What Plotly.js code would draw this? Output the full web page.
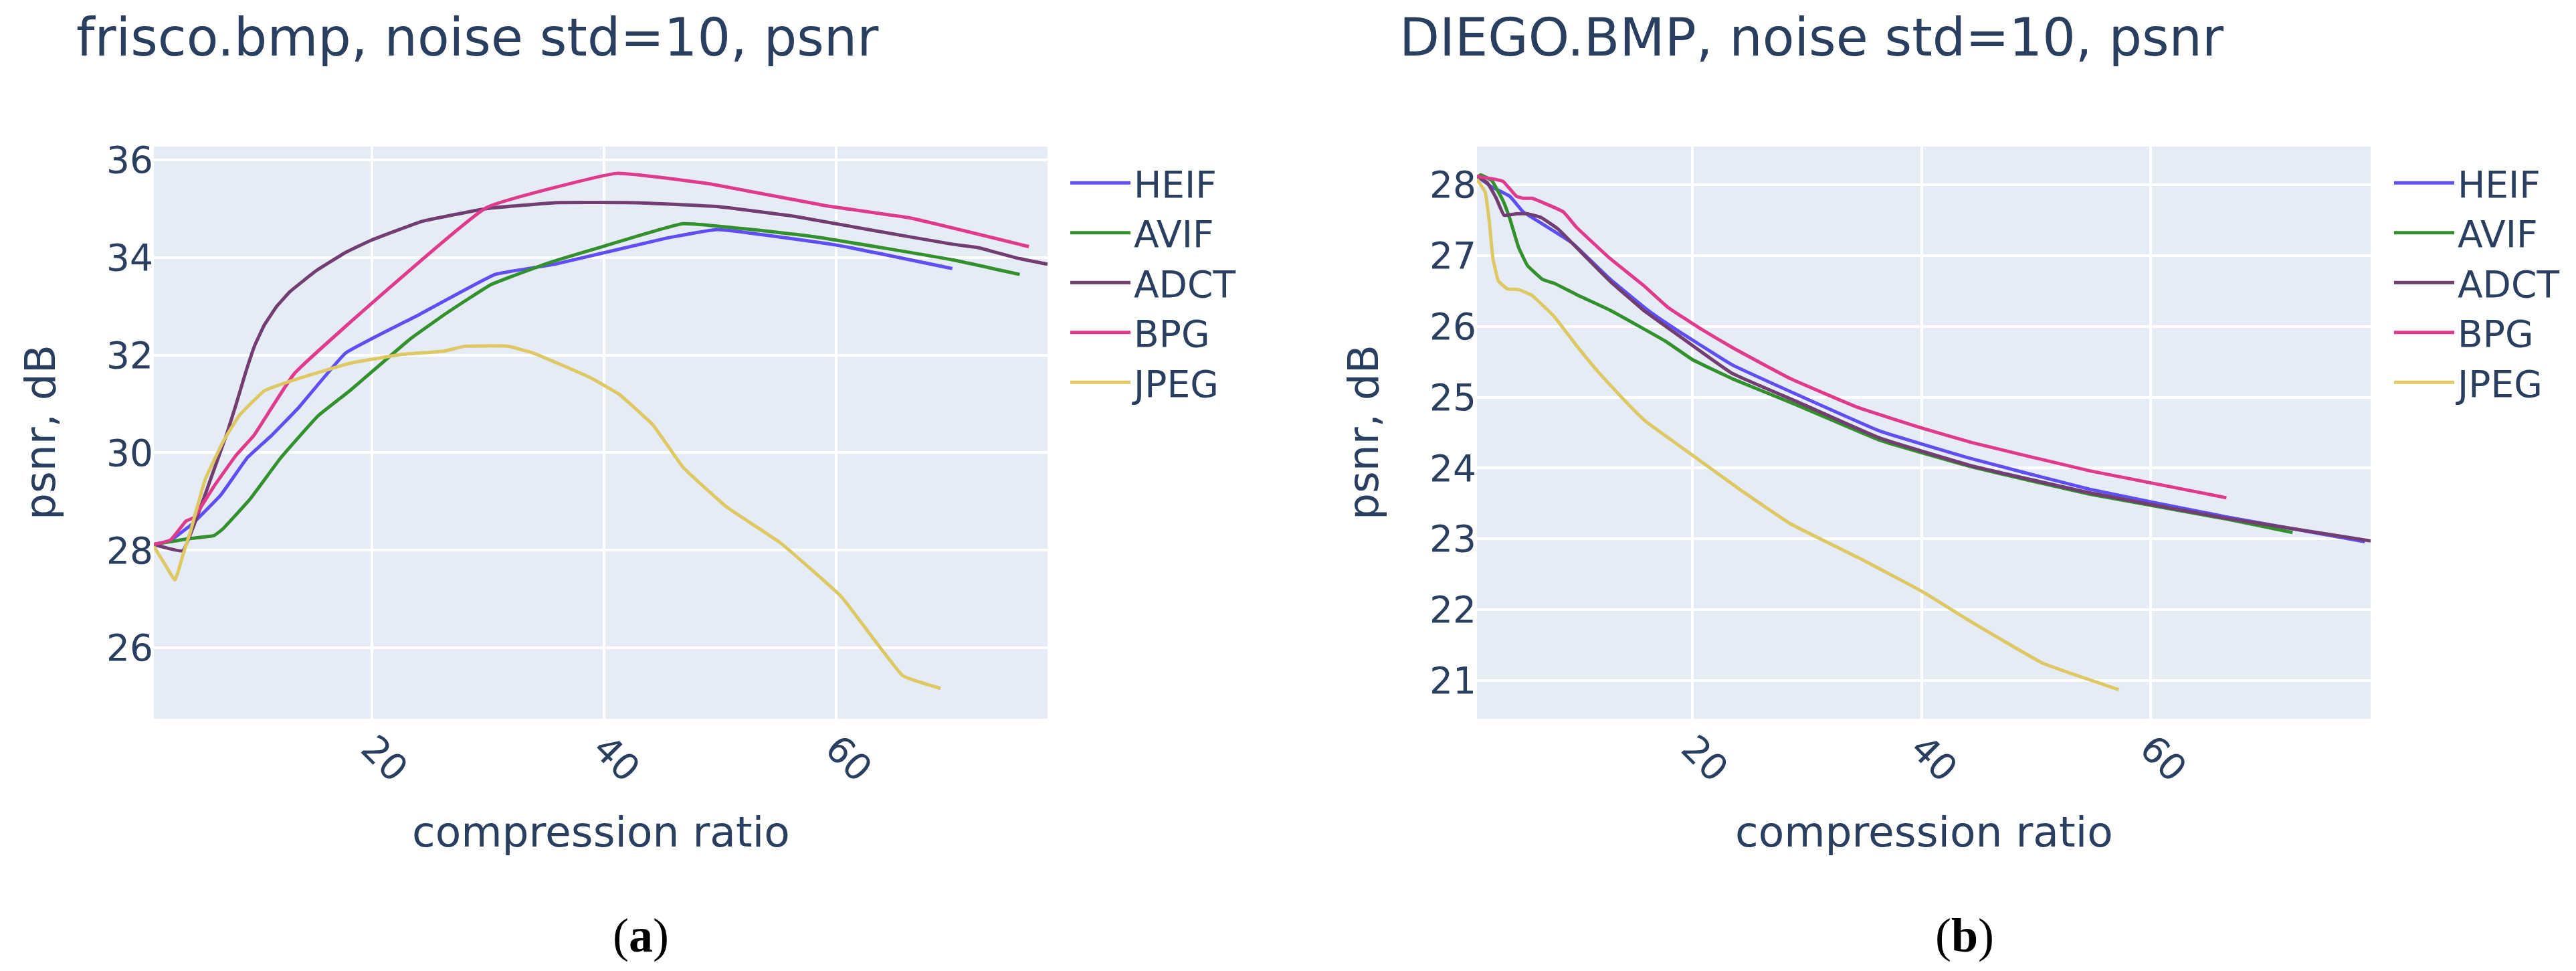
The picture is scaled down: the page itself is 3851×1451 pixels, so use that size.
<!DOCTYPE html>
<html>
<head>
<meta charset="utf-8">
<script src="https://cdn.plot.ly/plotly-3.0.1.min.js"></script>
<style>
html, body { margin: 0; padding: 0; background: #ffffff; }
#chart { width: 3851px; height: 1451px; }
</style>
</head>
<body>
<div id="chart"></div>
<script>
// ---------- data: (a) frisco.bmp ----------
const seriesNames = ['HEIF', 'AVIF', 'ADCT', 'BPG', 'JPEG'];
const seriesColors = ['#5E4FF5', '#33912D', '#723D70', '#E03A8C', '#DEC864'];

const heifA_x = [1.2, 2.6, 4.46, 6.96, 9.27, 11.38, 13.67, 17.72, 24.0, 30.6, 35.74, 45.3, 49.76, 60.06, 70.0];
const heifA_y = [28.12, 28.2, 28.53, 29.13, 29.9, 30.36, 30.92, 32.04, 32.82, 33.65, 33.86, 34.39, 34.57, 34.25, 33.77];

const avifA_x = [1.2, 4.27, 6.38, 7.15, 9.46, 12.15, 15.33, 18.09, 23.24, 26.37, 30.23, 35.38, 40.0, 46.8, 58.2, 70.0, 75.8];
const avifA_y = [28.12, 28.24, 28.3, 28.44, 29.04, 29.9, 30.75, 31.27, 32.32, 32.85, 33.44, 33.9, 34.23, 34.69, 34.42, 33.95, 33.65];

const adctA_x = [1.2, 3.69, 5.04, 6.2, 7.45, 8.3, 9.08, 9.9, 10.73, 11.8, 12.94, 15.15, 17.72, 19.93, 24.34, 29.86, 35.74, 42.8, 49.8, 56.4, 63.0, 70.0, 72.2, 75.5, 78.2];
const adctA_y = [28.12, 27.99, 28.76, 29.53, 30.36, 31.0, 31.62, 32.2, 32.62, 33.0, 33.3, 33.72, 34.1, 34.35, 34.74, 35.0, 35.12, 35.12, 35.04, 34.84, 34.56, 34.27, 34.2, 33.99, 33.86];

const bpgA_x = [1.2, 2.64, 3.98, 4.65, 6.38, 8.3, 9.84, 13.31, 29.86, 41.08, 49.0, 59.3, 66.3, 76.6];
const bpgA_y = [28.12, 28.21, 28.6, 28.67, 29.31, 29.95, 30.36, 31.62, 35.02, 35.72, 35.51, 35.05, 34.81, 34.22];

const jpegA_x = [1.2, 2.16, 3.02, 3.69, 4.37, 5.62, 7.16, 8.52, 10.73, 13.67, 18.09, 22.5, 26.18, 28.02, 31.7, 33.9, 38.68, 41.26, 44.2, 46.8, 50.6, 55.2, 60.47, 65.74, 68.98];
const jpegA_y = [28.08, 27.71, 27.39, 27.89, 28.4, 29.45, 30.22, 30.75, 31.27, 31.52, 31.83, 32.01, 32.08, 32.18, 32.18, 32.04, 31.55, 31.2, 30.57, 29.7, 28.88, 28.15, 27.04, 25.43, 25.17];

// ---------- data: (b) DIEGO.BMP ----------
const heifB_x = [1.22, 2.51, 4.07, 5.23, 6.01, 9.51, 12.82, 16.12, 18.65, 23.45, 28.96, 36.4, 44.4, 54.68, 66.59, 78.68];
const heifB_y = [28.12, 27.97, 27.84, 27.62, 27.54, 27.18, 26.67, 26.23, 25.95, 25.46, 25.05, 24.52, 24.13, 23.7, 23.31, 22.96];

const avifB_x = [1.22, 1.53, 2.51, 3.48, 4.07, 4.84, 5.62, 6.98, 7.95, 9.9, 12.82, 17.68, 20.03, 23.51, 28.96, 36.4, 44.52, 54.68, 66.59, 72.36];
const avifB_y = [28.1, 28.14, 28.06, 27.78, 27.53, 27.12, 26.86, 26.66, 26.61, 26.45, 26.23, 25.79, 25.53, 25.26, 24.9, 24.39, 24.01, 23.63, 23.28, 23.09];

const adctB_x = [1.22, 2.12, 2.9, 3.58, 4.65, 5.62, 6.79, 8.34, 10.29, 12.82, 15.74, 18.65, 23.45, 28.96, 36.4, 44.4, 54.68, 66.59, 79.17];
const adctB_y = [28.12, 28.03, 27.81, 27.57, 27.59, 27.59, 27.54, 27.37, 27.05, 26.64, 26.23, 25.89, 25.34, 24.95, 24.42, 24.03, 23.65, 23.29, 22.97];

const bpgB_x = [1.22, 3.48, 4.65, 5.23, 6.01, 8.73, 9.9, 12.82, 15.74, 17.87, 20.6, 23.51, 28.59, 34.54, 40.12, 44.4, 54.68, 66.59];
const bpgB_y = [28.12, 28.05, 27.84, 27.81, 27.81, 27.62, 27.4, 26.96, 26.58, 26.27, 25.98, 25.7, 25.26, 24.85, 24.56, 24.36, 23.96, 23.58];

const jpegB_x = [1.22, 1.93, 2.31, 2.61, 3.09, 3.87, 4.84, 6.01, 7.95, 9.9, 11.84, 14.18, 15.94, 20.03, 24.12, 28.59, 34.54, 40.12, 44.52, 50.5, 57.2];
const jpegB_y = [28.08, 27.9, 27.46, 26.96, 26.64, 26.53, 26.52, 26.44, 26.14, 25.73, 25.35, 24.94, 24.66, 24.18, 23.7, 23.21, 22.73, 22.25, 21.81, 21.25, 20.87];

const titleA = 'frisco.bmp, noise std=10, psnr';
const titleB = 'DIEGO.BMP, noise std=10, psnr';
const xTitle = 'compression ratio';
const yTitle = 'psnr, dB';
const panelA = '(<b>a</b>)';
const panelB = '(<b>b</b>)';

// ---------- build ----------
const W = 3851, H = 1451;
const FONT = 'DejaVu Sans, Verdana, sans-serif';
const TXT = '#2a3f5f';
const px = v => v / W;
const py = v => 1 - v / H;

const setA = [[heifA_x, heifA_y], [avifA_x, avifA_y], [adctA_x, adctA_y], [bpgA_x, bpgA_y], [jpegA_x, jpegA_y]];
const setB = [[heifB_x, heifB_y], [avifB_x, avifB_y], [adctB_x, adctB_y], [bpgB_x, bpgB_y], [jpegB_x, jpegB_y]];

const traces = [];
setA.forEach((s, i) => traces.push({
  type: 'scatter', mode: 'lines', x: s[0], y: s[1], name: seriesNames[i],
  line: {color: seriesColors[i], width: 5, shape: 'spline', smoothing: 0.3}, xaxis: 'x', yaxis: 'y', legend: 'legend'
}));
setB.forEach((s, i) => traces.push({
  type: 'scatter', mode: 'lines', x: s[0], y: s[1], name: seriesNames[i],
  line: {color: seriesColors[i], width: 5, shape: 'spline', smoothing: 0.3}, xaxis: 'x2', yaxis: 'y2', legend: 'legend2'
}));

const shift = 1979;
const axisCommon = {
  showgrid: true, gridcolor: '#ffffff', gridwidth: 4, zeroline: false, showline: false,
  ticks: '', tickfont: {family: FONT, size: 55, color: TXT}
};
const xCommon = Object.assign({}, axisCommon, {tick0: 0, dtick: 20, tickangle: 45});
const legendCommon = {
  font: {family: FONT, size: 55, color: TXT}, bgcolor: 'rgba(0,0,0,0)',
  xanchor: 'left', yanchor: 'top', itemwidth: 90, tracegroupgap: 0
};

const layout = {
  width: W, height: H,
  margin: {l: 0, r: 0, t: 0, b: 0, pad: 0},
  paper_bgcolor: '#ffffff', plot_bgcolor: '#E5ECF6',
  font: {family: FONT, color: TXT},
  xaxis: Object.assign({}, xCommon, {domain: [px(230), px(1566)], range: [1.2, 78.2], anchor: 'y'}),
  yaxis: Object.assign({}, axisCommon, {domain: [py(1074), py(219)], range: [24.55, 36.27], dtick: 2, tick0: 0, anchor: 'x'}),
  xaxis2: Object.assign({}, xCommon, {domain: [px(230 + shift - 1), px(1566 + shift - 1)], range: [1.22, 79.17], anchor: 'y2'}),
  yaxis2: Object.assign({}, axisCommon, {domain: [py(1074), py(219)], range: [20.46, 28.54], dtick: 1, tick0: 0, anchor: 'x2'}),
  legend: Object.assign({}, legendCommon, {x: px(1595), y: py(231)}),
  legend2: Object.assign({}, legendCommon, {x: px(1595 + shift), y: py(231)}),
  showlegend: true,
  annotations: [
    {text: titleA, xref: 'paper', yref: 'paper', x: px(112), y: py(56), xanchor: 'left', yanchor: 'middle', showarrow: false, font: {family: FONT, size: 78, color: TXT}},
    {text: titleB, xref: 'paper', yref: 'paper', x: px(112 + shift - 1), y: py(56), xanchor: 'left', yanchor: 'middle', showarrow: false, font: {family: FONT, size: 78, color: TXT}},
    {text: xTitle, xref: 'paper', yref: 'paper', x: px(898), y: py(1243), xanchor: 'center', yanchor: 'middle', showarrow: false, font: {family: FONT, size: 63, color: TXT}},
    {text: xTitle, xref: 'paper', yref: 'paper', x: px(898 + shift - 1), y: py(1243), xanchor: 'center', yanchor: 'middle', showarrow: false, font: {family: FONT, size: 63, color: TXT}},
    {text: yTitle, xref: 'paper', yref: 'paper', x: px(60), y: py(646), xanchor: 'center', yanchor: 'middle', textangle: -90, showarrow: false, font: {family: FONT, size: 63, color: TXT}},
    {text: yTitle, xref: 'paper', yref: 'paper', x: px(60 + shift - 1), y: py(646), xanchor: 'center', yanchor: 'middle', textangle: -90, showarrow: false, font: {family: FONT, size: 63, color: TXT}},
    {text: panelA, xref: 'paper', yref: 'paper', x: px(958), y: py(1398), xanchor: 'center', yanchor: 'middle', showarrow: false, font: {family: 'Liberation Serif, Times New Roman, serif', size: 72, color: '#000000'}},
    {text: panelB, xref: 'paper', yref: 'paper', x: px(958 + shift), y: py(1398), xanchor: 'center', yanchor: 'middle', showarrow: false, font: {family: 'Liberation Serif, Times New Roman, serif', size: 72, color: '#000000'}}
  ]
};

Plotly.newPlot('chart', traces, layout, {staticPlot: true, displayModeBar: false});
</script>
</body>
</html>
